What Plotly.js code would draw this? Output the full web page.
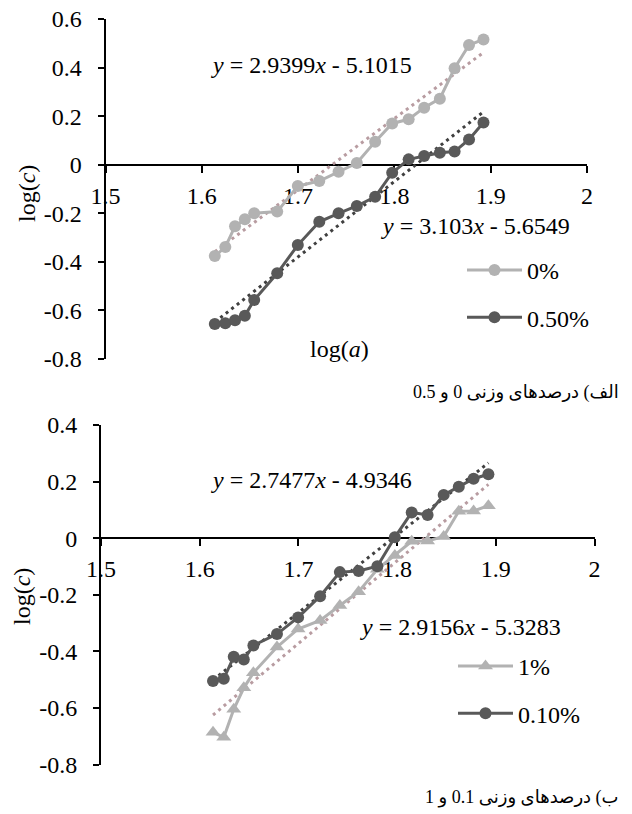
<!DOCTYPE html>
<html>
<head>
<meta charset="utf-8">
<script src="https://cdn.plot.ly/plotly-3.0.1.min.js"></script>
<style>
    html, body { margin: 0; padding: 0; background: #fff; }
    #chart { width: 632px; height: 814px; }
</style>
</head>
<body>
<div id="chart"></div>
<script>
// log(a) values, same for every series
const logA = [1.6135, 1.6244, 1.6345, 1.6447, 1.6544, 1.6783, 1.6997, 1.722, 1.742,
              1.761, 1.78, 1.7977, 1.8148, 1.8309, 1.8472, 1.8625, 1.8775, 1.8925];

// top panel: 0% and 0.50%
const logC0 = [-0.376, -0.339, -0.253, -0.225, -0.200, -0.193, -0.088, -0.067, -0.029,
               0.007, 0.095, 0.170, 0.187, 0.235, 0.272, 0.397, 0.493, 0.516];
const logC05 = [-0.656, -0.653, -0.640, -0.622, -0.557, -0.447, -0.331, -0.235, -0.200,
                -0.170, -0.132, -0.033, 0.022, 0.036, 0.049, 0.054, 0.104, 0.174];

// bottom panel: 1% and 0.10%
const logC1 = [-0.686, -0.704, -0.605, -0.529, -0.476, -0.385, -0.321, -0.291, -0.238,
               -0.189, -0.110, -0.061, -0.011, -0.010, 0.006, 0.095, 0.096, 0.115];
const logC01 = [-0.505, -0.497, -0.419, -0.429, -0.379, -0.339, -0.280, -0.205, -0.120,
                -0.116, -0.099, 0.003, 0.091, 0.082, 0.153, 0.182, 0.210, 0.226];

// linear trend lines (end points)
const trendX = [1.6135, 1.8925];
const trend0 = [-0.358, 0.462];
const trend05 = [-0.648, 0.218];
const trend1 = [-0.625, 0.190];
const trend01 = [-0.501, 0.266];

const equations = ['2.9399', '5.1015', '3.103', '5.6549', '2.7477', '4.9346', '2.9156', '5.3283'];

const xTicks = [1.5, 1.6, 1.7, 1.8, 1.9, 2];
const xTickText = ['1.5', '1.6', '1.7', '1.8', '1.9', '2'];
const yTicksTop = [-0.8, -0.6, -0.4, -0.2, 0, 0.2, 0.4, 0.6];
const yTickTextTop = ['-0.8', '-0.6', '-0.4', '-0.2', '0', '0.2', '0.4', '0.6'];
const yTicksBottom = [-0.8, -0.6, -0.4, -0.2, 0, 0.2, 0.4];
const yTickTextBottom = ['-0.8', '-0.6', '-0.4', '-0.2', '0', '0.2', '0.4'];

const captionTop = 'الف) درصدهای وزنی 0 و 0.5';
const captionBottom = 'ب) درصدهای وزنی 0.1 و 1';

const LIGHT = '#b2b2b2';
const DARK = '#595959';
const PINK = '#b89ca1';
const DOTS = '#404040';
const SERIF = 'Liberation Serif, Times New Roman, serif';
const FS = 24;

const W = 632, H = 814;
const topDomX = [105.5 / W, 587 / W];
const topDomY = [1 - 359 / H, 1 - 19 / H];
const botDomX = [101 / W, 594.5 / W];
const botDomY = [1 - 764.5 / H, 1 - 425 / H];
const topRangeY = [-0.8, 0.6];
const botRangeY = [-0.8, 0.4];

function zeroPos(dom, range) {
    return dom[0] + (0 - range[0]) / (range[1] - range[0]) * (dom[1] - dom[0]);
}

function seriesTrace(x, y, name, color, symbol, xa, ya, legend) {
    return {
        x: x, y: y, name: name, xaxis: xa, yaxis: ya, legend: legend, legendgroup: name,
        type: 'scatter', mode: 'lines+markers',
        line: { color: color, width: 3 },
        marker: { color: color, size: symbol === 'circle' ? 12 : 13, symbol: symbol },
        hoverinfo: 'x+y'
    };
}

function trendTrace(x, y, color, xa, ya) {
    return {
        x: x, y: y, xaxis: xa, yaxis: ya, type: 'scatter', mode: 'lines',
        line: { color: color, width: 3, dash: '3px,4px' },
        showlegend: false, hoverinfo: 'skip'
    };
}

function xAxis(dom, pos) {
    return {
        domain: dom, range: [1.5, 2], anchor: 'free', position: pos,
        tickvals: xTicks, ticktext: xTickText,
        showline: true, linecolor: '#000', linewidth: 2,
        ticks: 'outside', ticklen: 7, tickwidth: 2, tickcolor: '#000',
        ticklabelstandoff: 2,
        showgrid: false, zeroline: false, layer: 'below traces',
        tickfont: { family: SERIF, size: FS, color: '#000' }
    };
}

function yAxis(dom, range, vals, text, anchor) {
    return {
        domain: dom, range: range, anchor: anchor,
        tickvals: vals, ticktext: text,
        showline: true, linecolor: '#000', linewidth: 2,
        ticks: 'outside', ticklen: 6, tickwidth: 2, tickcolor: '#000',
        ticklabelstandoff: 11,
        showgrid: false, zeroline: false, layer: 'below traces',
        tickfont: { family: SERIF, size: FS, color: '#000' }
    };
}

function eqText(slope, icpt) {
    return '<i>y</i> = ' + slope + '<i>x</i> - ' + icpt;
}

function note(text, x, y, xref, yref, extra) {
    return Object.assign({
        text: text, x: x, y: y, xref: xref, yref: yref, showarrow: false,
        xanchor: 'center', yanchor: 'middle',
        font: { family: SERIF, size: FS, color: '#000' }
    }, extra || {});
}

const data = [
    trendTrace(trendX, trend0, PINK, 'x', 'y'),
    trendTrace(trendX, trend05, DOTS, 'x', 'y'),
    seriesTrace(logA, logC0, '0%', LIGHT, 'circle', 'x', 'y', 'legend'),
    seriesTrace(logA, logC05, '0.50%', DARK, 'circle', 'x', 'y', 'legend'),
    trendTrace(trendX, trend1, PINK, 'x2', 'y2'),
    trendTrace(trendX, trend01, DOTS, 'x2', 'y2'),
    seriesTrace(logA, logC1, '1%', LIGHT, 'triangle-up', 'x2', 'y2', 'legend2'),
    seriesTrace(logA, logC01, '0.10%', DARK, 'circle', 'x2', 'y2', 'legend2')
];

const legendBase = {
    font: { family: SERIF, size: FS, color: '#000' },
    bgcolor: 'rgba(0,0,0,0)', borderwidth: 0,
    traceorder: 'grouped', tracegroupgap: 13, itemwidth: 55,
    xanchor: 'left', yanchor: 'top'
};

const capFont = { family: SERIF + ', DejaVu Sans', size: 18, color: '#000' };

const layout = {
    width: W, height: H,
    margin: { l: 0, r: 0, t: 0, b: 0 },
    paper_bgcolor: '#fff', plot_bgcolor: 'rgba(0,0,0,0)',
    showlegend: true,
    xaxis: xAxis(topDomX, zeroPos(topDomY, topRangeY)),
    yaxis: yAxis(topDomY, topRangeY, yTicksTop, yTickTextTop, 'x'),
    xaxis2: xAxis(botDomX, zeroPos(botDomY, botRangeY)),
    yaxis2: yAxis(botDomY, botRangeY, yTicksBottom, yTickTextBottom, 'x2'),
    legend: Object.assign({ x: 462 / W, y: 1 - 248 / H }, legendBase),
    legend2: Object.assign({ x: 453 / W, y: 1 - 644 / H }, legendBase),
    annotations: [
        note(eqText(equations[0], equations[1]), 1.7134, 0.409, 'x', 'y'),
        note(eqText(equations[2], equations[3]), 1.8847, -0.253, 'x', 'y'),
        note(eqText(equations[4], equations[5]), 1.713, 0.205, 'x2', 'y2'),
        note(eqText(equations[6], equations[7]), 1.864, -0.315, 'x2', 'y2'),
        note('log(<i>a</i>)', 1.7435, -0.759, 'x', 'y'),
        note('log(<i>a</i>)', 1.7485, -0.813, 'x2', 'y2'),
        note('log(<i>c</i>)', 27 / W, 1 - 194 / H, 'paper', 'paper', { textangle: -90 }),
        note('log(<i>c</i>)', 22 / W, 1 - 597 / H, 'paper', 'paper', { textangle: -90 }),
        note(captionTop, 621 / W, 1 - 392 / H, 'paper', 'paper', { xanchor: 'right', font: capFont }),
        note(captionBottom, 621 / W, 1 - 797 / H, 'paper', 'paper', { xanchor: 'right', font: capFont })
    ]
};

document.addEventListener('DOMContentLoaded', () => {
    Plotly.newPlot('chart', data, layout, { staticPlot: true });
});
</script>
</body>
</html>
